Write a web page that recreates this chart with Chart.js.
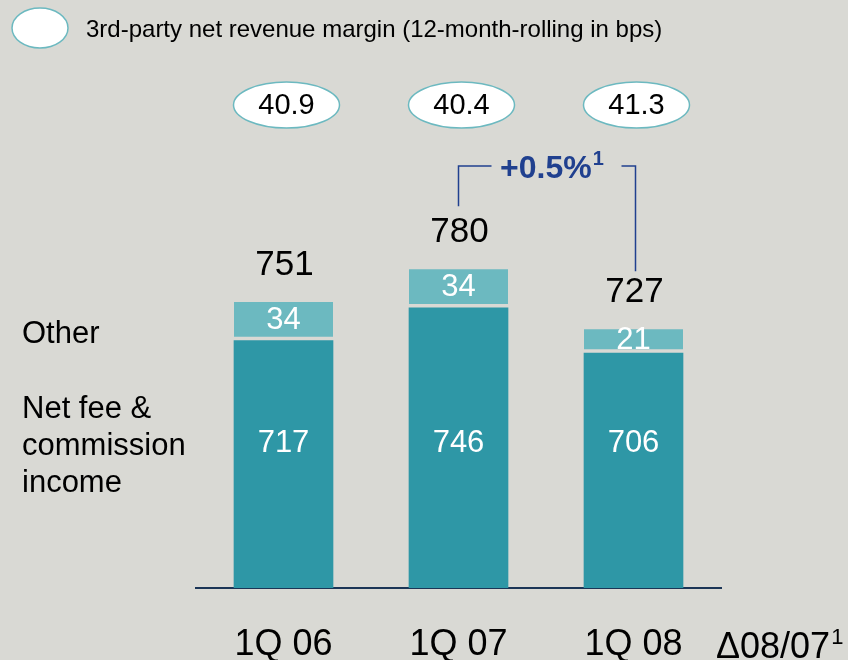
<!DOCTYPE html>
<html>
<head>
<meta charset="utf-8">
<script src="https://cdn.jsdelivr.net/npm/chart.js@4"></script>
<style>
  html, body { margin: 0; padding: 0; background: #d9d9d4; }
  #wrap { width: 848px; height: 660px; }
</style>
</head>
<body>
<div id="wrap"><canvas id="chart" width="848" height="660"></canvas></div>
<script>
// data
const categories = ['1Q 06', '1Q 07', '1Q 08'];
const netFee = [717, 746, 706];
const other = [34, 34, 21];
const totals = [751, 780, 727];
const margin = ['40.9', '40.4', '41.3'];
const changeLabel = '+0.5%';
const deltaLabel = '\u039408/07';

const FONT = '"Liberation Sans", Arial, Helvetica, sans-serif';
const BG = '#d9d9d4';
const DARK = '#2e97a6';
const LIGHT = '#6cb9c0';
const NAVY = '#20408f';

const annotations = {
    id: 'annotations',
    afterDatasetsDraw(chart) {
        const ctx = chart.ctx;
        const base = chart.getDatasetMeta(0).data;
        const top = chart.getDatasetMeta(1).data;
        ctx.save();

        // legend
        ctx.beginPath();
        ctx.ellipse(40, 28, 28, 20, 0, 0, Math.PI * 2);
        ctx.fillStyle = '#fff';
        ctx.fill();
        ctx.strokeStyle = LIGHT;
        ctx.lineWidth = 1.5;
        ctx.stroke();
        ctx.fillStyle = '#000';
        ctx.font = '24px ' + FONT;
        ctx.textAlign = 'left';
        ctx.textBaseline = 'alphabetic';
        ctx.fillText('3rd-party net revenue margin (12-month-rolling in bps)', 86, 37);

        // margin ellipses
        ctx.textAlign = 'center';
        ctx.textBaseline = 'middle';
        top.forEach((bar, i) => {
            ctx.beginPath();
            ctx.ellipse(bar.x + 3, 105, 53, 23, 0, 0, Math.PI * 2);
            ctx.fillStyle = '#fff';
            ctx.fill();
            ctx.strokeStyle = LIGHT;
            ctx.lineWidth = 1.5;
            ctx.stroke();
            ctx.fillStyle = '#000';
            ctx.font = '29px ' + FONT;
            ctx.fillText(margin[i], bar.x + 3, 106);
        });

        // values inside bars
        ctx.fillStyle = '#fff';
        ctx.font = '31px ' + FONT;
        base.forEach((bar, i) => {
            ctx.fillText(netFee[i], bar.x, 443);
        });
        top.forEach((bar, i) => {
            ctx.fillText(other[i], bar.x, (bar.y + bar.base - 4) / 2 + 1);
        });

        // totals above bars
        ctx.fillStyle = '#000';
        ctx.font = '35px ' + FONT;
        ctx.textBaseline = 'alphabetic';
        top.forEach((bar, i) => {
            ctx.fillText(totals[i], bar.x + 1, bar.y - 27);
        });

        // growth bracket 1Q 07 -> 1Q 08
        const x1 = top[1].x, x2 = top[2].x + 2, yLine = 166;
        ctx.strokeStyle = NAVY;
        ctx.lineWidth = 1.5;
        ctx.beginPath();
        ctx.moveTo(x1, top[1].y - 63);
        ctx.lineTo(x1, yLine);
        ctx.lineTo(x1 + 33, yLine);
        ctx.moveTo(x2 - 14, yLine);
        ctx.lineTo(x2, yLine);
        ctx.lineTo(x2, top[2].y - 58);
        ctx.stroke();
        ctx.fillStyle = NAVY;
        ctx.textAlign = 'left';
        ctx.font = 'bold 32px ' + FONT;
        ctx.fillText(changeLabel, 500, 178);
        const w = ctx.measureText(changeLabel).width;
        ctx.font = 'bold 20px ' + FONT;
        ctx.fillText('1', 500 + w + 1, 165);

        // row labels
        ctx.fillStyle = '#000';
        ctx.font = '31px ' + FONT;
        ctx.fillText('Other', 22, 343);
        ctx.fillText('Net fee &', 22, 418);
        ctx.fillText('commission', 22, 455);
        ctx.fillText('income', 22, 492);

        // delta column header
        const area = chart.chartArea;
        ctx.font = '36px ' + FONT;
        ctx.fillText(deltaLabel, area.right - 5, 658);
        const dw = ctx.measureText(deltaLabel).width;
        ctx.font = '22px ' + FONT;
        ctx.fillText('1', area.right - 5 + dw + 1, 644);

        ctx.restore();
    }
};

new Chart(document.getElementById('chart'), {
    type: 'bar',
    data: {
        labels: categories,
        datasets: [{
            label: 'Net fee & commission income',
            data: netFee,
            backgroundColor: DARK,
            borderWidth: 0
        }, {
            label: 'Other',
            data: other,
            backgroundColor: LIGHT,
            borderColor: BG,
            borderWidth: { top: 0, left: 0, right: 0, bottom: 4 },
            borderSkipped: false
        }]
    },
    options: {
        responsive: false,
        animation: false,
        layout: { padding: { left: 196, right: 127, top: 136, bottom: 0 } },
        datasets: { bar: { barThickness: 99 } },
        plugins: {
            legend: { display: false },
            tooltip: { enabled: false }
        },
        scales: {
            x: {
                stacked: true,
                grid: { display: false, drawTicks: false },
                border: { display: true, color: '#1b3556', width: 2 },
                ticks: {
                    color: '#000',
                    font: { family: FONT, size: 36 },
                    padding: 35
                },
                afterFit: s => { s.height = 72; }
            },
            y: {
                stacked: true,
                display: false,
                min: 498,
                max: 898
            }
        }
    },
    plugins: [annotations]
});
</script>
</body>
</html>
